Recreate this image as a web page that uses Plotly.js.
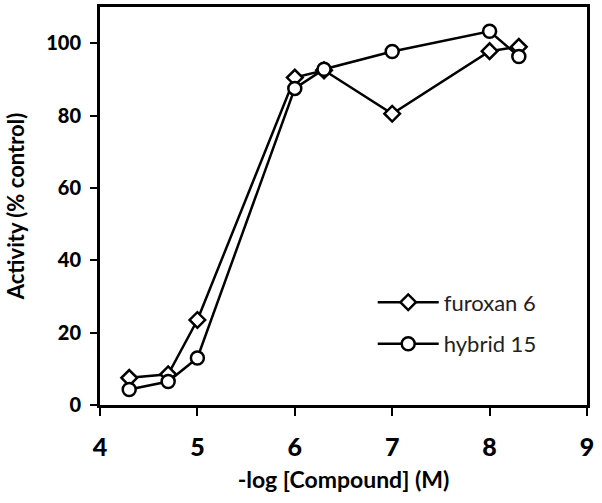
<!DOCTYPE html>
<html>
<head>
<meta charset="utf-8">
<script src="https://cdn.plot.ly/plotly-3.0.1.min.js"></script>
<style>html,body{margin:0;padding:0;background:#fff;}#chart{width:602px;height:503px;}</style>
</head>
<body>
<div id="chart"></div>
<script>
const concentrations = [4.3, 4.7, 5, 6, 6.3, 7, 8, 8.3];
const furoxan6 = [7.5, 8.5, 23.5, 90.5, 92.5, 80.5, 97.8, 99];
const hybrid15 = [4.3, 6.5, 13, 87.5, 92.8, 97.7, 103.3, 96.3];
const xTicks = [4, 5, 6, 7, 8, 9];
const yTicks = [0, 20, 40, 60, 80, 100];

const FONT = 'Lato, "Open Sans", sans-serif';

const traces = [
  {
    x: concentrations, y: furoxan6, name: 'furoxan 6', legendgroup: 'a',
    mode: 'lines+markers', type: 'scatter',
    line: {color: '#000', width: 2.5},
    marker: {symbol: 'diamond', size: 12, color: '#fff', line: {color: '#000', width: 2.5}}
  },
  {
    x: concentrations, y: hybrid15, name: 'hybrid 15', legendgroup: 'b',
    mode: 'lines+markers', type: 'scatter',
    line: {color: '#000', width: 2.5},
    marker: {symbol: 'circle', size: 13, color: '#fff', line: {color: '#000', width: 2.5}}
  }
];

const layout = {
  width: 602, height: 503,
  margin: {l: 100, r: 15, t: 7, b: 98, pad: 0},
  paper_bgcolor: '#fff', plot_bgcolor: '#fff',
  font: {family: FONT, color: '#000'},
  showlegend: true,
  legend: {
    x: 0.56, y: 0.205, xanchor: 'left', yanchor: 'middle',
    itemwidth: 61,
    font: {family: FONT, size: 22, color: '#222'},
    bgcolor: 'rgba(0,0,0,0)', tracegroupgap: 10, traceorder: 'grouped'
  },
  xaxis: {
    range: [4, 9], tickvals: xTicks, ticktext: xTicks.map(String),
    showgrid: false, zeroline: false,
    showline: true, linecolor: '#000', linewidth: 3, mirror: true,
    ticks: 'outside', ticklen: 8, tickwidth: 2, tickcolor: '#000',
    ticklabelstandoff: 10,
    tickfont: {family: FONT, size: 25, color: '#000', weight: 900},
    title: {text: '<b>-log [Compound] (M)</b>', font: {family: FONT, size: 23, color: '#000'}, standoff: 12}
  },
  yaxis: {
    range: [0, 110], tickvals: yTicks, ticktext: yTicks.map(String),
    showgrid: false, zeroline: false,
    showline: true, linecolor: '#000', linewidth: 3, mirror: true,
    ticks: 'outside', ticklen: 7, tickwidth: 2, tickcolor: '#000',
    ticklabelstandoff: 5,
    tickfont: {family: FONT, size: 20, color: '#000', weight: 900},
    title: {text: '<b>Activity (% control)</b>', font: {family: FONT, size: 22, color: '#000'}, standoff: 16}
  }
};

Plotly.newPlot('chart', traces, layout, {displayModeBar: false, staticPlot: true});
</script>
</body>
</html>
